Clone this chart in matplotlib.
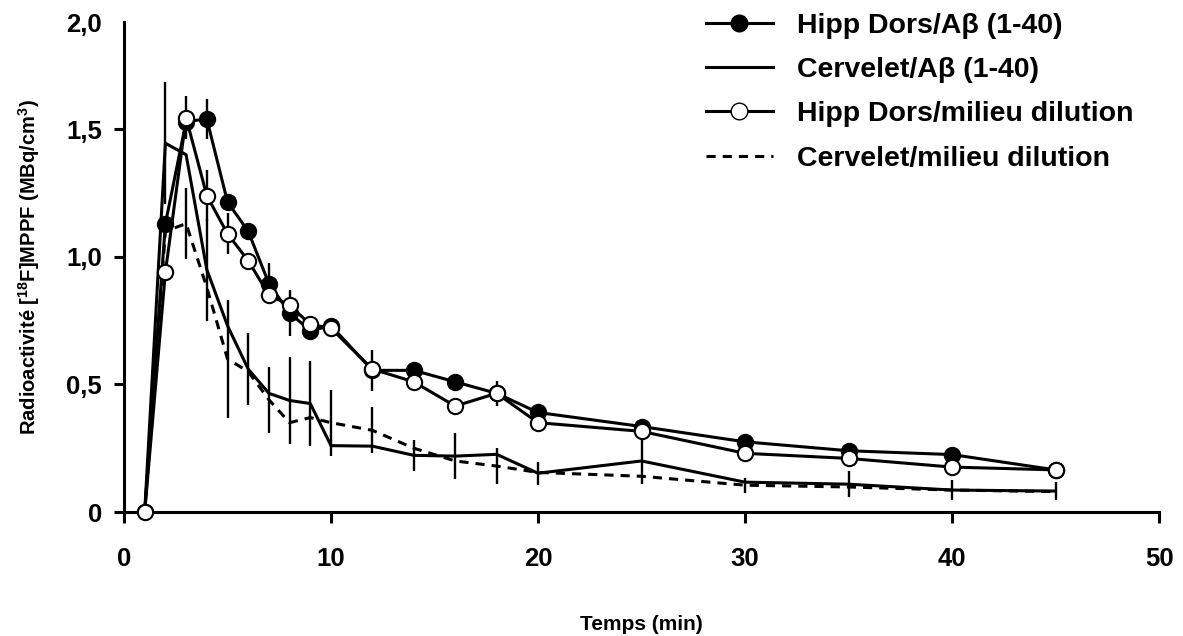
import matplotlib
matplotlib.use("Agg")
import matplotlib.pyplot as plt
from matplotlib.lines import Line2D

plt.rcParams['font.family'] = ['Liberation Sans', 'DejaVu Sans']
plt.rcParams['font.weight'] = 'bold'
plt.rcParams['mathtext.fontset'] = 'custom'
plt.rcParams['mathtext.rm'] = 'Liberation Sans:bold'
plt.rcParams['mathtext.bf'] = 'Liberation Sans:bold'

# ---- data ----
time_min = [1, 2, 3, 4, 5, 6, 7, 8, 9, 10, 12, 14, 16, 18, 20, 25, 30, 35, 40, 45]

hipp_abeta = [0, 1.13, 1.53, 1.54, 1.215, 1.10, 0.895, 0.78, 0.71, 0.73,
              0.555, 0.555, 0.51, 0.465, 0.39, 0.335, 0.275, 0.24, 0.225, 0.165]
hipp_abeta_err = [0, 0, 0, 0.08, 0, 0, 0.08, 0.09, 0.03, 0.03,
                  0.08, 0, 0, 0.05, 0, 0, 0, 0, 0, 0]

cerv_abeta = [0, 1.445, 1.40, 0.95, 0.73, 0.56, 0.465, 0.437, 0.425, 0.26,
              0.258, 0.222, 0.219, 0.226, 0.152, 0.20, 0.117, 0.109, 0.086, 0.082]
cerv_abeta_err = [0, 0.24, 0, 0.20, 0, 0.14, 0, 0.17, 0.165, 0,
                  0, 0.06, 0.09, 0, 0.045, 0.09, 0, 0.05, 0.04, 0.035]

hipp_dil = [0, 0.94, 1.545, 1.24, 1.09, 0.985, 0.85, 0.81, 0.735, 0.72,
            0.56, 0.51, 0.415, 0.465, 0.35, 0.316, 0.23, 0.21, 0.176, 0.165]
hipp_dil_err = [0, 0, 0.085, 0.10, 0.08, 0, 0, 0, 0, 0,
                0, 0, 0, 0, 0, 0, 0, 0, 0, 0]

cerv_dil = [0, 1.10, 1.13, 0.88, 0.60, 0.55, 0.44, 0.35, 0.37, 0.35,
            0.32, 0.25, 0.20, 0.18, 0.155, 0.14, 0.105, 0.098, 0.086, 0.08]
cerv_dil_err = [0, 0, 0.14, 0, 0.23, 0, 0.13, 0, 0, 0.13,
                0.09, 0, 0, 0.07, 0, 0, 0.03, 0, 0, 0]

labels = ['Hipp Dors/Aβ (1-40)', 'Cervelet/Aβ (1-40)',
          'Hipp Dors/milieu dilution', 'Cervelet/milieu dilution']
x_ticks = [0, 10, 20, 30, 40, 50]
y_ticks = [0, 0.5, 1.0, 1.5]
y_tick_labels = ['0', '0,5', '1,0', '1,5']

# ---- figure ----
fig = plt.figure(figsize=(11.83, 6.36), dpi=100)
ax = fig.add_axes([124/1183, 1 - 512/636, (1159 - 124)/1183, (512 - 22)/636])

lw = 2.2
ms = 11
dash = (3, 2.3)

def ebar(y, e):
    xs = [t for t, v in zip(time_min, e) if v > 0]
    ys = [a for a, v in zip(y, e) if v > 0]
    es = [v for v in e if v > 0]
    ax.errorbar(xs, ys, yerr=es, fmt='none', ecolor='black', elinewidth=1.7,
                capsize=0, zorder=2)

for y, e in [(hipp_abeta, hipp_abeta_err), (cerv_abeta, cerv_abeta_err),
             (hipp_dil, hipp_dil_err), (cerv_dil, cerv_dil_err)]:
    ebar(y, e)

ax.plot(time_min, cerv_dil, color='black', lw=lw, dashes=dash, zorder=3)
ax.plot(time_min, cerv_abeta, color='black', lw=lw, zorder=3)
ax.plot(time_min, hipp_abeta, color='black', lw=lw, marker='o', ms=ms,
        mfc='black', mec='black', mew=1.5, zorder=4)
ax.plot(time_min, hipp_dil, color='black', lw=lw, marker='o', ms=ms,
        mfc='white', mec='black', mew=1.5, zorder=5, clip_on=False)

ax.set_xlim(0, 50)
ymax = 1.92
ax.set_ylim(0, ymax)
ax.set_xticks(x_ticks)
ax.set_xticklabels([str(v) for v in x_ticks], fontsize=18.5, fontweight='bold')
ax.set_yticks(y_ticks + [ymax])
ax.set_yticklabels(y_tick_labels + ['2,0'], fontsize=18.5, fontweight='bold')
ax.yaxis.get_major_ticks()[-1].tick1line.set_visible(False)

for s in ['top', 'right']:
    ax.spines[s].set_visible(False)
for s in ['left', 'bottom']:
    ax.spines[s].set_linewidth(2.2)
ax.tick_params(axis='x', direction='out', length=8, width=2.2, pad=17)
ax.tick_params(axis='y', direction='out', length=7, width=2.2, pad=9)

ax.set_xlabel('Temps (min)', fontsize=15, fontweight='bold', labelpad=32)
ax.set_ylabel(r'Radioactivité [$^{18}$F]MPPF (MBq/cm$^{3}$)', fontsize=14.5,
              fontweight='bold', labelpad=17)

handles = [
    Line2D([], [], color='black', lw=lw, marker='o', ms=12, mfc='black', mec='black'),
    Line2D([], [], color='black', lw=lw),
    Line2D([], [], color='black', lw=lw, marker='o', ms=12, mfc='white', mec='black'),
    Line2D([], [], color='black', lw=lw, dashes=dash),
]
leg = fig.legend(handles, labels, loc='upper left',
                 bbox_to_anchor=(706/1183, 1 - 13/636), frameon=False,
                 prop={'size': 20.5, 'weight': 'bold'}, handlelength=2.35,
                 handletextpad=0.85, labelspacing=0.64, borderpad=0, borderaxespad=0)

fig.savefig('out.png', dpi=100)
